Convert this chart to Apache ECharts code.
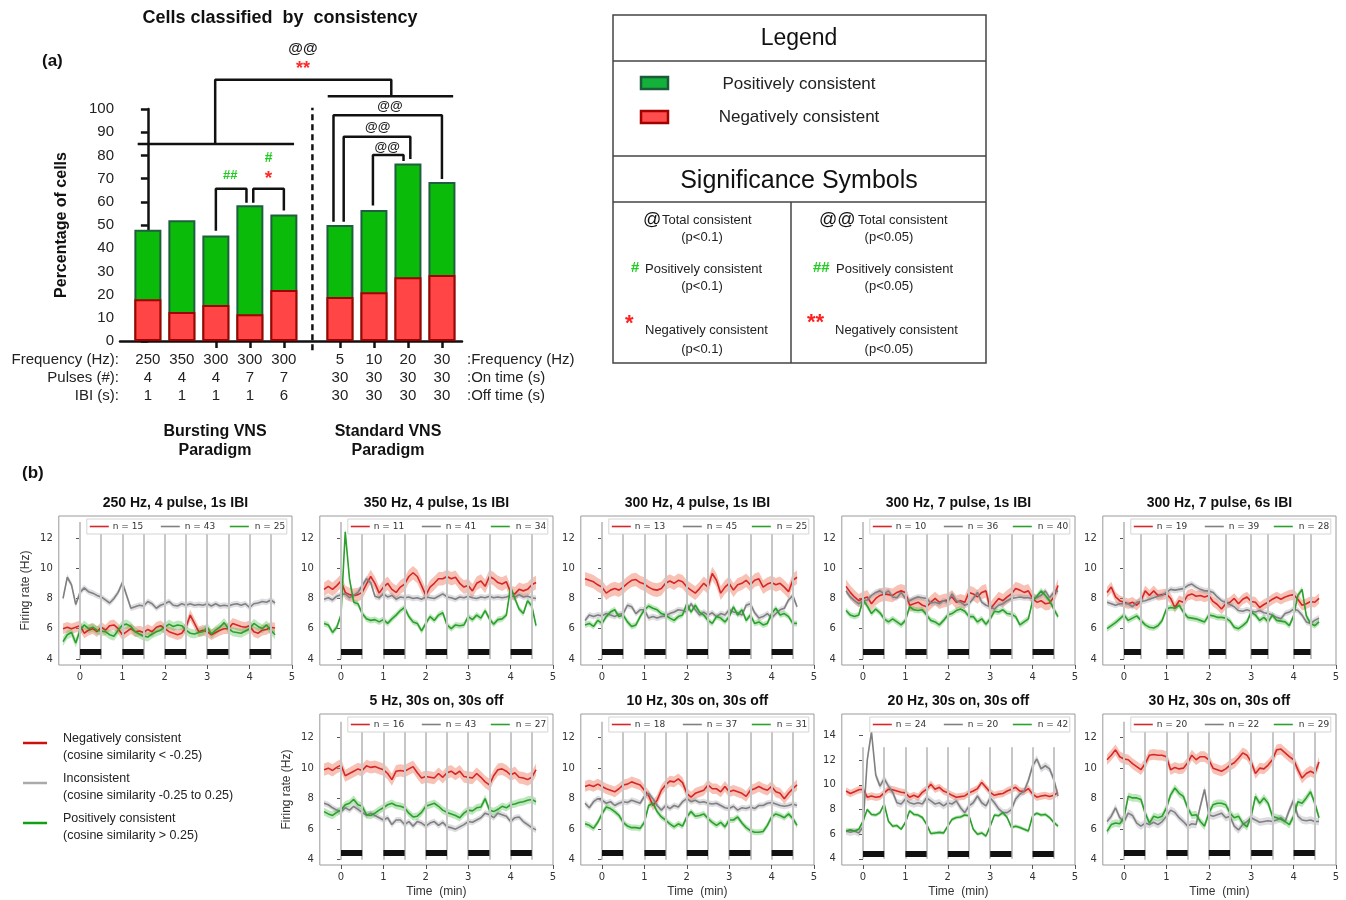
<!DOCTYPE html>
<html>
<head>
<meta charset="utf-8">
<script src="https://cdn.jsdelivr.net/npm/echarts@6/dist/echarts.min.js"></script>
<style>
html,body{margin:0;padding:0;background:#fff;}
#main{width:1346px;height:900px;}
</style>
</head>
<body>
<div id="main"></div>
<script>
// ---------- (a) cells classified by consistency ----------
const barPositions = [0, 1, 2, 3, 4, 5.65, 6.65, 7.65, 8.65];
const freqRow   = ['250', '350', '300', '300', '300', '5', '10', '20', '30'];
const pulsesRow = ['4', '4', '4', '7', '7', '30', '30', '30', '30'];
const ibiRow    = ['1', '1', '1', '1', '6', '30', '30', '30', '30'];
const negPct = [18, 12.5, 15.5, 11.5, 22, 19, 21, 27.5, 28.5];
const posPct = [30, 39.5, 30, 47, 32.5, 31, 35.5, 49, 40];
const tickPositions = [2, 3, 4, 5.65, 6.65, 7.65, 8.65];
const dividerX = 4.84;

// comparison brackets (value coordinates)
const brackets = [
  [[1.98, 84.9], [1.98, 112.6], [7.16, 112.6], [7.16, 105.5]],
  [[-0.3, 84.9], [4.3, 84.9]],
  [[5.29, 105.5], [8.98, 105.5]],
  [[2.0, 47.5], [2.0, 65.6], [2.9, 65.6], [2.9, 59.6]],
  [[3.1, 59.6], [3.1, 65.6], [4.0, 65.6], [4.0, 56.2]],
  [[5.46, 51.4], [5.46, 97.3], [8.65, 97.3], [8.65, 69.8]],
  [[5.76, 51.4], [5.76, 88.0], [7.72, 88.0], [7.72, 78.4]],
  [[6.62, 58.4], [6.62, 80.2], [7.52, 80.2], [7.52, 77.6]]
];
const sigMarks = [
  {x: 4.56, y: 125.9, text: '@@', color: '#222', size: 15},
  {x: 4.56, y: 117.2, text: '**', color: '#ff2a2a', size: 18},
  {x: 2.42, y: 71.2, text: '##', color: '#1fcc1f', size: 13},
  {x: 3.55, y: 79.0, text: '#', color: '#1fcc1f', size: 14},
  {x: 3.55, y: 70.0, text: '*', color: '#ff2a2a', size: 19},
  {x: 7.12, y: 100.9, text: '@@', color: '#222', size: 13},
  {x: 6.76, y: 91.9, text: '@@', color: '#222', size: 13},
  {x: 7.04, y: 83.3, text: '@@', color: '#222', size: 13}
];

// ---------- (b) firing rate traces ----------
const timeMin = [-0.4,-0.3,-0.2,-0.1,0,0.1,0.2,0.3,0.4,0.5,0.6,0.7,0.8,0.9,1,1.1,1.2,1.3,1.4,1.5,1.6,1.7,1.8,1.9,2,2.1,2.2,2.3,2.4,2.5,2.6,2.7,2.8,2.9,3,3.1,3.2,3.3,3.4,3.5,3.6,3.7,3.8,3.9,4,4.1,4.2,4.3,4.4,4.5,4.6];
const panelTitles = ['250 Hz, 4 pulse, 1s IBI', '350 Hz, 4 pulse, 1s IBI', '300 Hz, 4 pulse, 1s IBI', '300 Hz, 7 pulse, 1s IBI', '300 Hz, 7 pulse, 6s IBI', '5 Hz, 30s on, 30s off', '10 Hz, 30s on, 30s off', '20 Hz, 30s on, 30s off', '30 Hz, 30s on, 30s off'];
const cellCounts = [[15,43,25],[11,41,34],[13,45,25],[10,36,40],[19,39,28],[16,43,27],[18,37,31],[24,20,42],[20,22,29]];
const stimWindows = [
  [[0,0.5],[1,1.5],[2,2.5],[3,3.5],[4,4.5]],
  [[0,0.5],[1,1.5],[2,2.5],[3,3.5],[4,4.5]],
  [[0,0.5],[1,1.5],[2,2.5],[3,3.5],[4,4.5]],
  [[0,0.5],[1,1.5],[2,2.5],[3,3.5],[4,4.5]],
  [[0,0.4],[1,1.4],[2,2.4],[3,3.4],[4,4.4]],
  [[0,0.5],[1,1.5],[2,2.5],[3,3.5],[4,4.5]],
  [[0,0.5],[1,1.5],[2,2.5],[3,3.5],[4,4.5]],
  [[0,0.5],[1,1.5],[2,2.5],[3,3.5],[4,4.5]],
  [[0,0.5],[1,1.5],[2,2.5],[3,3.5],[4,4.5]]
];
// half-width of the shaded interval: [red, gray, green]
const bandHalfWidth = [[0.35,0.2,0.3],[0.45,0.2,0.2],[0.45,0.2,0.2],[0.45,0.2,0.2],[0.35,0.2,0.2],[0.4,0.2,0.25],[0.35,0.2,0.2],[0.3,0.3,0.15],[0.35,0.25,0.25]];
const yTickSets = [[4,6,8,10,12],[4,6,8,10,12],[4,6,8,10,12],[4,6,8,10,12],[4,6,8,10,12],[4,6,8,10,12],[4,6,8,10,12],[4,6,8,10,12,14],[4,6,8,10,12]];

const red250 = [6.0,6.1,6.0,6.1,6.2,5.7,5.9,6.0,5.8,6.1, 5.9,6.2,6.25,6.0,5.6,5.8,6.0,5.8,5.85,5.75, 5.95,5.8,6.1,6.2,6.0,5.8,5.7,5.6,5.7,6.1, 6.9,6.35,5.8,5.9,5.8,5.6,5.75,5.9,6.0,6.0, 6.35,6.25,6.15,6.1,6.2,5.8,5.7,5.9,5.95,6.1, 6.05];
const gray250 = [8.0,9.4,8.9,7.6,8.4,8.7,8.45,8.35,8.2,8.1, 7.9,7.7,8.0,8.4,9.05,8.2,7.35,7.45,7.55,7.5, 7.8,7.65,7.35,7.55,7.65,7.8,7.55,7.5,7.65,7.55, 7.65,7.55,7.6,7.55,7.65,7.5,7.65,7.5,7.55,7.5, 7.6,7.65,7.55,7.65,7.4,7.65,7.7,7.8,7.75,7.9, 7.7];
const green250 = [5.15,5.6,5.75,5.05,5.9,6.25,6.0,6.1,5.9,5.85, 5.8,5.6,5.5,5.9,6.25,6.3,6.15,5.8,5.65,5.5, 5.45,5.65,5.8,5.9,6.1,6.3,6.15,6.25,6.2,5.9, 5.7,5.65,5.75,5.8,6.1,5.65,5.9,6.1,6.4,6.0, 5.8,5.75,5.7,5.85,6.0,6.35,6.15,6.0,6.25,5.9, 5.6];

const red350 = [8.6,8.8,8.6,8.85,9.15,8.4,8.25,8.2,8.25,8.4, 8.95,9.45,9.0,8.35,8.75,9.0,8.6,8.4,8.75,8.95, 9.45,9.7,9.45,8.85,8.2,8.75,9.0,9.3,9.3,9.45, 9.3,9.4,9.0,8.75,8.85,8.5,9.0,9.15,8.8,9.45, 9.3,9.05,8.95,9.1,8.4,8.3,8.6,8.5,8.6,8.9, 9.05];
const gray350 = [7.95,8.05,7.9,8.15,8.25,8.3,8.05,8.2,8.4,8.85, 9.3,9.05,8.15,8.05,8.3,8.1,8.2,7.95,8.1,8.05, 8.1,8.0,8.05,7.95,8.1,8.05,8.0,8.15,8.3,8.1, 8.05,7.95,8.1,8.05,8.15,8.05,8.0,8.1,8.05,8.15, 8.05,8.1,8.05,8.1,8.2,8.1,8.25,8.1,8.15,8.05, 8.0];
const green350 = [6.35,6.25,5.75,6.1,6.9,12.4,9.3,7.75,7.65,7.0, 6.65,6.55,6.6,6.45,6.6,6.35,6.65,6.9,7.2,7.4, 6.8,6.45,6.35,5.85,6.35,6.8,6.55,6.9,7.05,6.25, 6.0,6.25,6.2,6.25,6.8,6.6,6.9,6.7,7.2,6.65, 6.3,6.6,6.65,6.9,8.75,8.0,7.3,7.0,7.85,7.5, 6.2];

const red300p4 = [9.3,9.2,9.1,8.9,8.75,8.35,8.55,8.65,8.55,8.75, 9.0,9.2,9.25,9.05,8.95,8.75,8.6,8.55,8.65,9.0, 9.15,9.0,9.2,9.1,8.75,8.55,8.35,8.65,9.0,8.75, 9.65,9.2,8.35,8.75,9.0,8.55,8.9,9.0,9.2,8.9, 9.2,9.3,8.75,8.95,9.05,8.9,9.0,8.75,8.45,9.2, 9.4];
const gray300p4 = [6.55,6.9,6.8,6.9,6.85,7.0,6.9,6.8,6.95,7.0, 7.55,7.45,7.0,7.25,7.25,6.7,6.8,6.7,6.8,6.85, 7.0,7.1,7.25,7.2,7.1,7.65,7.25,6.9,7.1,6.9, 7.05,6.8,7.0,6.9,7.25,7.1,7.05,6.9,7.55,7.65, 7.05,6.7,6.8,7.0,6.7,7.0,7.25,7.35,7.9,8.2, 7.45];
const green300p4 = [6.25,6.35,6.15,6.55,6.35,6.8,7.1,7.25,6.8,6.9, 6.45,6.15,6.25,6.8,7.25,7.5,7.35,7.25,7.0,6.9, 6.7,6.55,6.8,6.9,7.65,7.1,7.55,7.1,6.9,6.55, 6.35,6.8,6.7,6.45,6.8,7.45,6.9,7.25,6.55,6.9, 6.35,6.45,6.25,6.35,7.0,7.35,6.9,7.0,6.8,6.35, 6.35];

const red300p7 = [8.8,8.4,8.1,7.85,8.0,8.1,7.65,8.0,8.2,8.3, 8.25,8.2,8.4,8.5,8.4,7.55,7.65,7.75,7.55,7.45, 7.75,8.0,7.75,7.85,7.9,8.1,7.75,7.85,7.75,8.4, 8.3,8.1,8.4,8.5,7.3,7.65,8.0,7.85,8.1,8.3, 8.65,8.55,8.4,8.5,8.0,7.75,7.85,7.65,7.7,8.1, 8.85];
const gray300p7 = [8.5,8.1,7.85,7.65,7.85,7.9,8.2,8.4,8.5,8.3, 8.5,8.1,8.05,8.4,8.0,7.85,8.0,8.1,8.05,8.0, 7.7,7.75,7.65,7.85,7.75,8.3,7.85,7.75,7.55,7.65, 8.0,8.4,7.75,7.55,7.45,7.3,7.55,7.65,7.85,8.0, 8.05,8.1,8.05,8.05,8.0,8.05,8.2,8.5,8.05,8.4, 8.5];
const green300p7 = [7.2,6.9,6.8,6.9,7.9,7.5,7.0,7.3,7.05,6.65, 6.45,6.65,6.45,6.25,6.55,7.45,7.25,7.2,7.25,6.9, 6.55,6.45,6.25,6.55,6.9,7.0,7.2,7.3,7.15,6.8, 6.8,6.45,6.65,6.3,6.65,7.15,7.1,7.25,7.0,6.95, 6.8,6.25,6.45,6.65,7.85,8.15,8.5,8.2,7.85,7.3, 6.8];

const red300ibi6 = [8.4,8.75,8.1,7.85,7.75,7.65,7.75,7.55,7.85,8.5, 8.2,8.5,8.2,8.25,8.3,8.0,7.4,7.85,7.75,8.2, 8.3,8.15,8.2,8.1,8.2,7.8,7.6,7.3,7.65,7.75, 8.0,7.65,7.95,8.1,7.8,7.75,7.4,7.6,7.75,7.95, 8.1,7.95,8.1,8.2,8.25,7.95,7.55,7.65,7.8,7.75, 8.0];
const gray300ibi6 = [7.75,7.65,7.55,7.65,7.65,7.65,7.45,7.75,7.8,7.85, 7.95,8.05,8.15,8.2,8.4,8.6,8.55,8.6,8.65,8.85, 8.95,8.75,8.6,8.5,8.5,8.4,8.1,7.85,7.75,7.6, 7.45,7.2,7.15,7.25,7.15,7.1,7.2,7.05,7.0,6.9, 6.75,6.65,7.0,7.1,7.3,7.2,6.9,6.45,6.35,6.55, 6.7];
const green300ibi6 = [6.0,6.2,6.4,6.65,6.9,6.55,6.7,6.85,6.55,6.25, 6.1,6.05,6.2,6.55,7.3,7.4,7.35,7.55,7.1,6.75, 6.7,6.65,6.55,6.45,6.9,6.85,6.75,6.75,6.7,6.5, 6.1,6.0,6.2,6.45,7.1,6.9,6.55,6.75,6.45,6.9, 6.55,6.5,6.45,6.2,6.85,8.2,8.6,6.85,6.35,6.2, 6.45];

const red5 = [9.9,10.0,9.85,10.05,10.2,9.5,9.65,9.8,9.95,9.85, 10.15,10.05,10.1,10.0,9.9,9.65,9.25,9.8,9.85,9.8, 9.95,10.1,9.7,9.35,9.45,9.4,9.35,9.65,9.4,9.7, 9.8,9.6,9.8,9.45,9.4,9.35,9.65,9.4,9.1,8.9, 9.5,9.9,9.95,9.8,9.55,9.7,9.4,9.35,9.25,9.4, 9.9];
const gray5 = [7.7,7.6,7.4,7.25,7.15,7.4,7.25,7.5,7.3,7.1, 6.9,7.05,6.9,6.75,6.6,6.75,6.3,6.6,6.6,6.3, 6.5,6.2,6.5,6.4,6.2,6.4,6.5,6.25,6.45,6.15, 6.1,6.0,6.15,6.3,6.5,6.45,6.6,6.75,7.05,6.95, 6.75,7.05,6.95,6.85,6.5,6.75,6.8,6.5,6.3,6.1, 5.95];
const green5 = [7.15,7.0,6.9,7.1,7.25,7.6,7.7,7.95,7.6,7.5, 6.95,6.9,7.05,7.25,7.4,7.6,7.7,7.55,7.5,7.4, 7.05,6.8,6.85,7.1,7.5,7.6,7.7,7.5,7.25,7.1, 7.0,6.9,6.75,7.05,7.25,7.2,7.4,7.45,8.0,7.25, 7.15,7.3,7.5,7.4,7.6,7.65,7.75,7.8,7.9,7.95, 7.8];

const red10 = [8.8,8.9,8.8,8.95,8.8,8.65,8.55,8.45,8.65,8.9, 8.95,9.1,9.0,8.9,8.55,8.2,7.55,7.9,8.55,8.9, 9.15,9.1,9.3,9.05,8.35,8.1,8.35,8.45,8.55,8.9, 8.65,8.65,8.45,8.8,8.45,8.55,8.45,8.35,8.15,8.55, 8.65,8.8,8.65,8.55,8.8,8.45,8.35,8.0,8.35,8.65, 8.9];
const gray10 = [7.7,7.4,7.8,8.0,7.9,7.7,7.8,7.55,7.7,7.8, 7.75,7.9,7.8,7.7,8.15,8.35,8.0,7.55,7.25,7.55, 7.35,7.55,7.45,7.8,8.0,7.8,7.9,7.75,7.8,7.7, 7.65,7.7,7.55,7.4,7.35,7.5,7.25,7.4,7.35,7.45, 7.35,7.55,7.55,7.7,7.75,7.65,7.55,7.5,7.55,7.65, 7.55];
const green10 = [6.35,6.25,6.05,6.45,7.0,7.45,7.35,7.15,6.9,6.45, 6.2,6.1,6.1,6.05,6.45,7.55,7.7,7.15,6.8,6.6, 6.35,6.15,6.35,6.2,6.8,7.15,6.85,6.9,7.0,6.7, 6.45,6.25,6.45,6.15,6.6,6.6,6.8,6.4,6.1,5.9, 5.8,5.8,5.85,6.25,6.8,7.0,6.9,6.75,7.0,6.7, 6.25];

const red20 = [9.5,9.3,9.45,9.6,9.65,9.0,9.1,9.0,9.05,9.35, 9.65,9.6,9.5,9.4,9.35,9.0,9.15,9.0,9.4,9.65, 10.05,9.65,9.8,9.5,9.35,9.15,9.0,9.05,9.1,9.35, 9.5,9.7,10.2,9.8,9.4,9.15,9.25,9.3,9.5,9.65, 9.8,9.5,9.45,9.7,9.25,9.0,9.1,9.15,9.05,9.15, 9.4];
const gray20 = [6.25,6.15,6.25,6.1,6.6,12.0,14.3,10.8,9.9,10.5, 9.9,9.4,8.55,8.45,8.85,8.55,8.45,8.55,8.45,8.95, 8.7,8.45,8.55,8.3,8.55,8.45,8.7,8.15,7.75,8.3, 8.55,9.1,8.55,8.3,8.95,8.55,8.05,7.75,7.75,8.0, 8.85,9.25,9.5,10.35,11.55,12.1,11.3,11.55,11.3,10.45, 9.1];
const green20 = [6.25,6.35,6.25,6.4,7.05,8.0,7.6,7.55,7.75,8.45, 7.05,6.65,6.7,6.4,6.95,7.9,7.6,7.55,7.35,6.8, 6.05,6.1,6.15,6.1,6.65,7.2,7.35,7.4,7.55,7.5, 6.4,6.0,6.1,5.85,6.65,7.55,7.5,7.75,7.35,6.55, 6.65,6.55,6.4,6.25,7.5,7.7,7.55,7.6,7.35,6.95, 6.65];

const red30 = [10.55,10.85,11.2,10.75,10.6,10.55,10.3,10.1,9.9,10.3, 10.85,10.9,10.85,10.85,10.75,9.9,10.05,9.95,10.0,10.35, 10.85,10.55,10.75,10.75,10.55,10.0,9.9,9.8,9.95,10.2, 10.35,10.65,11.0,10.85,10.4,9.65,10.0,9.95,10.2,10.55, 11.2,11.25,11.0,10.75,10.55,9.9,9.35,9.65,9.8,9.65, 10.4];
const gray30 = [6.5,6.85,7.4,6.75,6.5,7.05,6.9,6.4,6.2,6.4, 6.3,6.45,6.3,6.5,6.85,7.25,7.1,6.75,6.5,6.2, 6.35,6.3,7.5,8.6,6.95,6.85,6.95,7.05,6.75,6.85, 6.2,5.95,6.3,6.5,6.75,6.6,6.45,6.5,6.55,6.5, 6.6,6.75,6.5,7.25,7.9,6.85,6.6,6.55,6.6,6.5, 6.5];
const green30 = [5.85,6.3,6.4,6.35,6.75,8.15,8.05,8.05,7.95,7.05, 6.4,6.85,6.75,6.85,7.4,8.25,8.7,8.35,8.15,7.4, 6.9,6.95,6.5,6.2,7.05,7.6,7.7,7.7,7.6,7.05, 6.75,6.85,6.4,6.15,6.85,8.15,7.7,8.05,7.7,6.85, 6.75,6.65,6.5,6.3,6.85,7.8,7.7,8.05,8.45,7.7, 6.75];

const negativeTraces = [red250, red350, red300p4, red300p7, red300ibi6, red5, red10, red20, red30];
const inconsistentTraces = [gray250, gray350, gray300p4, gray300p7, gray300ibi6, gray5, gray10, gray20, gray30];
const positiveTraces = [green250, green350, green300p4, green300p7, green300ibi6, green5, green10, green20, green30];

// ---------- layout ----------
const SANS = '"Liberation Sans", Arial, sans-serif';
const DJV = '"DejaVu Sans", sans-serif';
const colOrigin = [80, 341, 602, 863, 1124];   // pixel of t = 0 in each column
const pxPerMin = 42.4;
const panelCell = [[0,0],[0,1],[0,2],[0,3],[0,4],[1,1],[1,2],[1,3],[1,4]];
const rowTop = [516, 714];
const rowHeight = [149, 151];
const yRanges = [[3.6,13.45],[3.6,13.45],[3.6,13.45],[3.6,13.45],[3.6,13.45],[3.65,13.55],[3.65,13.55],[3.5,15.75],[3.65,13.55]];

const grids = [], xAxes = [], yAxes = [], series = [], els = [];

function txt(x, y, text, font, fill, align, vAlign) {
  return {type: 'text', x: x, y: y, silent: true, z: 20,
    style: {text: text, font: font, fill: fill || '#222', align: align || 'center', verticalAlign: vAlign || 'middle'}};
}
function seg(x1, y1, x2, y2, color, w) {
  return {type: 'line', silent: true, z: 20, shape: {x1: x1, y1: y1, x2: x2, y2: y2}, style: {stroke: color, lineWidth: w}};
}

// grid 0 : bars (total height in green, negatively consistent part in red over it)
grids.push({left: 120, top: 109, width: 342, height: 232});
xAxes.push({
  gridIndex: 0, type: 'value', min: -0.82, max: 9.24,
  splitLine: {show: false},
  axisLine: {show: true, onZero: false, lineStyle: {color: '#111', width: 2.5}},
  axisTick: {show: true, customValues: tickPositions, length: 7, lineStyle: {color: '#111', width: 2.5}},
  axisLabel: {show: true, customValues: barPositions, fontSize: 15, color: '#222', lineHeight: 18, margin: 10,
    formatter: function (v) {
      const i = barPositions.findIndex(p => Math.abs(p - v) < 1e-6);
      return i < 0 ? '' : freqRow[i] + '\n' + pulsesRow[i] + '\n' + ibiRow[i];
    }}
});
yAxes.push({
  gridIndex: 0, type: 'value', min: 0, max: 100, interval: 10,
  splitLine: {show: false},
  axisLine: {show: true, lineStyle: {color: '#111', width: 2.5}},
  axisTick: {show: true, length: 7, lineStyle: {color: '#111', width: 2.5}},
  axisLabel: {fontSize: 15, color: '#222', margin: 6},
  name: 'Percentage of cells', nameLocation: 'middle', nameGap: 50,
  nameTextStyle: {fontSize: 16, fontWeight: 'bold', color: '#111', fontFamily: SANS}
});
series.push({
  type: 'bar', name: 'Positively consistent', xAxisIndex: 0, yAxisIndex: 0, barWidth: 27, barGap: '-100%', z: 2,
  data: barPositions.map((p, i) => [p, negPct[i] + posPct[i]]),
  itemStyle: {color: '#0abb0a', borderColor: '#1f5f3f', borderWidth: 2}
});
series.push({
  type: 'bar', name: 'Negatively consistent', xAxisIndex: 0, yAxisIndex: 0, barWidth: 27, barGap: '-100%', z: 3,
  data: barPositions.map((p, i) => [p, negPct[i]]),
  itemStyle: {color: '#ff4545', borderColor: '#a30000', borderWidth: 2}
});
series.push({
  type: 'line', xAxisIndex: 0, yAxisIndex: 0, clip: false, silent: true, symbol: 'none',
  data: [[dividerX, -4], [dividerX, 100.5]],
  lineStyle: {color: '#111', width: 2.5, type: [6, 4]}
});
brackets.forEach(b => series.push({
  type: 'line', xAxisIndex: 0, yAxisIndex: 0, clip: false, silent: true, symbol: 'none',
  data: b, lineStyle: {color: '#111', width: 2.5}
}));

// grids 1..9 : firing rate panels
const traceStyles = [
  {color: '#d62728', band: 'rgba(238,120,90,0.45)'},
  {color: '#808080', band: 'rgba(150,150,165,0.32)'},
  {color: '#2ca02c', band: 'rgba(70,185,70,0.35)'}
];
panelTitles.forEach((title, i) => {
  const g = i + 1;
  const [row, col] = panelCell[i];
  const left = colOrigin[col] - 0.5 * pxPerMin;
  const width = 5.5 * pxPerMin;
  const top = rowTop[row], height = rowHeight[row];
  grids.push({left: left, top: top, width: width, height: height, show: true,
    borderColor: '#9a9a9a', borderWidth: 1, backgroundColor: 'transparent'});
  const firstCol = (i === 0 || i === 5);
  xAxes.push({
    gridIndex: g, type: 'value', min: -0.5, max: 5, splitLine: {show: false},
    axisLine: {show: false},
    axisTick: {show: true, customValues: [0,1,2,3,4,5], length: 4, lineStyle: {color: '#555'}},
    axisLabel: {show: true, customValues: [0,1,2,3,4,5], fontSize: 10, color: '#333', fontFamily: DJV, margin: 7},
    name: row === 1 ? 'Time  (min)' : '', nameLocation: 'middle', nameGap: 21,
    nameTextStyle: {fontSize: 12, color: '#333', fontFamily: SANS}
  });
  yAxes.push({
    gridIndex: g, type: 'value', min: yRanges[i][0], max: yRanges[i][1], splitLine: {show: false},
    axisLine: {show: false},
    axisTick: {show: true, customValues: yTickSets[i], length: 4, lineStyle: {color: '#555'}},
    axisLabel: {show: true, customValues: yTickSets[i], fontSize: 10, color: '#333', fontFamily: DJV, margin: 6},
    name: firstCol ? 'Firing rate (Hz)' : '', nameLocation: 'middle', nameGap: 27,
    nameTextStyle: {fontSize: 12, color: '#333', fontFamily: SANS}
  });

  // stimulation epochs: on/off guide lines and black "stim on" bars
  const marks = [];
  stimWindows[i].forEach(([on, off]) => {
    [on, off].forEach(t => marks.push([{coord: [t, 4.0], lineStyle: {color: '#c6c6c6', width: 2, type: 'solid'}}, {coord: [t, 13.05]}]));
    marks.push([{coord: [on, 4.45], lineStyle: {color: '#111', width: 6, type: 'solid'}}, {coord: [off, 4.45]}]);
  });
  series.push({
    type: 'line', xAxisIndex: g, yAxisIndex: g, symbol: 'none', silent: true, z: 0,
    lineStyle: {opacity: 0}, data: [[-0.45, 3.9]],
    markLine: {silent: true, symbol: 'none', animation: false, label: {show: false},
      emphasis: {disabled: true}, data: marks}
  });

  const traces = [negativeTraces[i], inconsistentTraces[i], positiveTraces[i]];
  // shaded interval around each mean trace
  traces.forEach((vals, k) => {
    const hw = bandHalfWidth[i][k];
    const fill = traceStyles[k].band;
    series.push({
      type: 'custom', xAxisIndex: g, yAxisIndex: g, silent: true, z: 1,
      data: [[0, vals[0]]],
      renderItem: function (params, api) {
        const upper = timeMin.map((t, j) => api.coord([t, vals[j] + hw]));
        const lower = timeMin.map((t, j) => api.coord([t, vals[j] - hw])).reverse();
        return {type: 'polygon', shape: {points: upper.concat(lower)}, style: {fill: fill}};
      }
    });
  });
  traces.forEach((vals, k) => {
    series.push({
      type: 'line', xAxisIndex: g, yAxisIndex: g, symbol: 'none', silent: true, z: 3,
      lineStyle: {color: traceStyles[k].color, width: 1.6},
      data: timeMin.map((t, j) => [t, vals[j]])
    });
  });

  // panel title and legend
  els.push(txt(left + width / 2, top - 13, title, 'bold 14px ' + SANS, '#111'));
  els.push({type: 'rect', silent: true, z: 15, shape: {x: left + 28, y: top + 3, width: 200, height: 15},
    style: {fill: '#fff', stroke: '#d4d4d4', lineWidth: 1}});
  const lx = [31, 102, 171], tx = [54, 126, 196];
  cellCounts[i].forEach((n, k) => {
    els.push(seg(left + lx[k], top + 10.5, left + lx[k] + 19, top + 10.5, traceStyles[k].color, 1.6));
    els.push(txt(left + tx[k], top + 10.5, 'n = ' + n, '9px ' + DJV, '#333', 'left'));
  });
});

// ---------- texts around (a) ----------
els.push(txt(280, 18, 'Cells classified  by  consistency', 'bold 18px ' + SANS, '#111'));
els.push(txt(42, 61, '(a)', 'bold 17px ' + SANS, '#111', 'left'));
els.push(txt(119, 360, 'Frequency (Hz):', '15px ' + SANS, '#222', 'right'));
els.push(txt(119, 378, 'Pulses (#):', '15px ' + SANS, '#222', 'right'));
els.push(txt(119, 396, 'IBI (s):', '15px ' + SANS, '#222', 'right'));
els.push(txt(467, 360, ':Frequency (Hz)', '15px ' + SANS, '#222', 'left'));
els.push(txt(467, 378, ':On time (s)', '15px ' + SANS, '#222', 'left'));
els.push(txt(467, 396, ':Off time (s)', '15px ' + SANS, '#222', 'left'));
els.push(txt(215, 432, 'Bursting VNS', 'bold 16px ' + SANS, '#111'));
els.push(txt(215, 451, 'Paradigm', 'bold 16px ' + SANS, '#111'));
els.push(txt(388, 432, 'Standard VNS', 'bold 16px ' + SANS, '#111'));
els.push(txt(388, 451, 'Paradigm', 'bold 16px ' + SANS, '#111'));

// legend / significance table
const boxStroke = '#444';
els.push({type: 'rect', silent: true, z: 20, shape: {x: 613, y: 15, width: 373, height: 348}, style: {fill: 'none', stroke: boxStroke, lineWidth: 1.5}});
els.push(seg(613, 61, 986, 61, boxStroke, 1.5));
els.push(seg(613, 156, 986, 156, boxStroke, 1.5));
els.push(seg(613, 202, 986, 202, boxStroke, 1.5));
els.push(seg(791, 202, 791, 363, boxStroke, 1.5));
els.push(txt(799, 39, 'Legend', '23px ' + SANS, '#111'));
els.push({type: 'rect', silent: true, z: 20, shape: {x: 641, y: 77, width: 27, height: 12}, style: {fill: '#13b13a', stroke: '#1a5c3a', lineWidth: 2.5}});
els.push({type: 'rect', silent: true, z: 20, shape: {x: 641, y: 111, width: 27, height: 12}, style: {fill: '#ff4d4d', stroke: '#a30000', lineWidth: 2.5}});
els.push(txt(799, 84, 'Positively consistent', '17px ' + SANS, '#222'));
els.push(txt(799, 117, 'Negatively consistent', '17px ' + SANS, '#222'));
els.push(txt(799, 181, 'Significance Symbols', '25px ' + SANS, '#111'));
const cellFont = '13px ' + SANS;
els.push(txt(643, 220, '@', '18px ' + SANS, '#111', 'left'));
els.push(txt(662, 220, 'Total consistent', cellFont, '#222', 'left'));
els.push(txt(702, 237, '(p<0.1)', cellFont, '#222'));
els.push(txt(631, 268, '#', 'bold 15px ' + SANS, '#22cc22', 'left'));
els.push(txt(645, 269, 'Positively consistent', cellFont, '#222', 'left'));
els.push(txt(702, 286, '(p<0.1)', cellFont, '#222'));
els.push(txt(625, 324, '*', 'bold 22px ' + SANS, '#ff2020', 'left'));
els.push(txt(645, 330, 'Negatively consistent', cellFont, '#222', 'left'));
els.push(txt(702, 349, '(p<0.1)', cellFont, '#222'));
els.push(txt(819, 220, '@@', '18px ' + SANS, '#111', 'left'));
els.push(txt(858, 220, 'Total consistent', cellFont, '#222', 'left'));
els.push(txt(889, 237, '(p<0.05)', cellFont, '#222'));
els.push(txt(813, 268, '##', 'bold 15px ' + SANS, '#22cc22', 'left'));
els.push(txt(836, 269, 'Positively consistent', cellFont, '#222', 'left'));
els.push(txt(889, 286, '(p<0.05)', cellFont, '#222'));
els.push(txt(807, 323, '**', 'bold 22px ' + SANS, '#ff2020', 'left'));
els.push(txt(835, 330, 'Negatively consistent', cellFont, '#222', 'left'));
els.push(txt(889, 349, '(p<0.05)', cellFont, '#222'));

// ---------- texts around (b) ----------
els.push(txt(22, 473, '(b)', 'bold 17px ' + SANS, '#111', 'left'));
const sideLegend = [
  {y: 743, color: '#cc1111', l1: 'Negatively consistent', l2: '(cosine similarity < -0.25)'},
  {y: 783, color: '#aaaaaa', l1: 'Inconsistent', l2: '(cosine similarity -0.25 to 0.25)'},
  {y: 823, color: '#11a011', l1: 'Positively consistent', l2: '(cosine similarity > 0.25)'}
];
sideLegend.forEach(s => {
  els.push(seg(23, s.y, 47, s.y, s.color, 2.5));
  els.push(txt(63, s.y - 4, s.l1, '12.5px ' + SANS, '#222', 'left'));
  els.push(txt(63, s.y + 13, s.l2, '12.5px ' + SANS, '#222', 'left'));
});

const chart = echarts.init(document.getElementById('main'), null, {renderer: 'canvas', width: 1346, height: 900});
chart.setOption({
  animation: false,
  backgroundColor: '#fff',
  textStyle: {fontFamily: SANS},
  grid: grids,
  xAxis: xAxes,
  yAxis: yAxes,
  series: series
});
// significance symbols placed through the bar chart's own scales
sigMarks.forEach(m => {
  const p = chart.convertToPixel({xAxisIndex: 0, yAxisIndex: 0}, [m.x, m.y]);
  els.push(txt(p[0], p[1], m.text, 'bold ' + m.size + 'px ' + SANS, m.color));
});
chart.setOption({graphic: {elements: els}});
</script>
</body>
</html>
